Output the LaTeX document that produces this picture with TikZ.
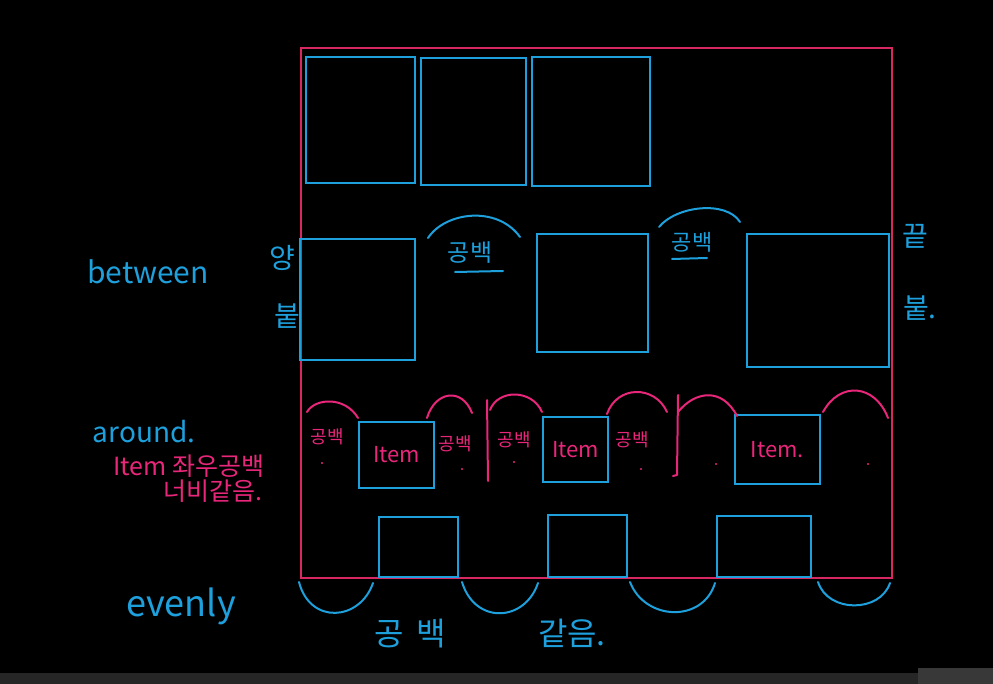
\documentclass[tikz,border=0pt]{standalone}
\usepackage{fontspec}
\setmainfont{Noto Sans CJK KR}
\definecolor{skyblue}{HTML}{1EA0DC}
\definecolor{hotpink}{HTML}{E8267A}
\definecolor{framepink}{HTML}{D82862}
\tikzset{
  sketch/.style={line width=2pt,line cap=round,line join=round},
  bluebox/.style={draw=skyblue,line width=1.4pt,inner sep=0pt,outer sep=0pt,anchor=north west},
  pinkline/.style={draw=hotpink,sketch},
  blueline/.style={draw=skyblue,sketch},
  bluetext/.style={text=skyblue,inner sep=0pt},
  pinktext/.style={text=hotpink,inner sep=0pt},
}
\newcommand{\fsz}[1]{\fontsize{#1}{#1}\selectfont}
\begin{document}
\begin{tikzpicture}[x=1pt,y=-1pt]
\fill[black] (0,0) rectangle (993,684);
\useasboundingbox (0,0) rectangle (993,684);
\fill[black!85] (0,673) rectangle (993,684);
\fill[black!78] (918,668) rectangle (993,684);

% container
\node[draw=framepink,line width=1.8pt,inner sep=0pt,anchor=north west,
  minimum width=591pt,minimum height=530pt] (flex) at (300,47) {};

% items, one row for each justify value
\foreach \n/\x/\y/\w/\h in {a1/306/57/109pt/126pt,a2/421/58/105pt/127pt,a3/532/57/118pt/129pt,
  b1/300/239/115pt/121pt,b2/537/234/111pt/118pt,b3/747/234/142pt/133pt,
  c1/359/422/75pt/66pt,c2/543/417/65pt/65pt,c3/735/415/85pt/69pt,
  d1/379/517/79pt/60pt,d2/548/515/79pt/62pt,d3/717/516/94pt/61pt}
{
	\node[bluebox,minimum width=\w,minimum height=\h] (\n) at (\x,\y) {};
}

% between
\node[bluetext,font=\fsz{30}] (between) at (148,272) {between};
\node[bluetext,font=\fsz{28}] (yang) at (282,258) {양};
\node[bluetext,font=\fsz{28}] (butL) at (287,316) {붙};
\node[bluetext,font=\fsz{28}] (kkeut) at (915,236) {끝};
\node[bluetext,font=\fsz{28}] (butR) at (920,308) {붙.};
\draw[blueline] (428,238) .. controls (445,212) and (497,205) .. (520,237);
\draw[blueline] (659,227) .. controls (676,206) and (726,200) .. (740,222);
\node[bluetext,font=\fsz{24}] (gapB1) at (470,253) {공백};
\node[bluetext,font=\fsz{22}] (gapB2) at (692,242) {공백};
\draw[blueline] (455,272) -- (503,271);
\draw[blueline] (672,259) -- (707,258);

% around
\node[bluetext,font=\fsz{28}] (around) at (144,432) {around.};
\node[pinktext,font=\fsz{25}] (note1) at (189,466) {Item 좌우공백};
\node[pinktext,font=\fsz{25}] (note2) at (213,491) {너비같음.};
\foreach \x/\y/\a/\b/\c/\d/\e/\f in {307/412/315/398/345/396/358/418,
  427/418/435/391/462/387/472/413,490/410/498/389/532/389/542/412,
  607/414/617/385/655/385/667/412,678/412/695/391/722/387/737/416,
  823/412/840/381/875/384/888/418}
{
	\draw[pinkline] (\x,\y) .. controls (\a,\b) and (\c,\d) .. (\e,\f);
}
\draw[pinkline] (487,400) -- (488,481);
\draw[pinkline] (678,395) -- (677,475) -- (673,476);
\foreach \n/\x/\y in {g1/327/437,g2/455/444,g3/514/440,g4/632/440}
{
	\node[pinktext,font=\fsz{18}] (\n) at (\x,\y) {공백};
}
\foreach \x/\y in {322/463,462/469,514/462,641/469,716/464,868/464}
{
	\fill[hotpink] (\x,\y) circle (1.2pt);
}
\node[pinktext,font=\fsz{22}] at (c1.center) {Item};
\node[pinktext,font=\fsz{22}] at (c2.center) {Item};
\node[pinktext,font=\fsz{22}] at (c3.center) {Item.};

% evenly
\node[bluetext,font=\fsz{36}] (evenly) at (181,606) {evenly};
\foreach \x/\a/\b/\c/\d/\e in {299/310/625/360/621/373,462/475/625/525/622/538,
  630/645/621/703/623/715,818/828/613/880/613/890}
{
	\draw[blueline] (\x,582) .. controls (\a,\b) and (\c,\d) .. (\e,583);
}
\node[bluetext,font=\fsz{32}] (gapE) at (410,634) {공\hspace{12pt}백};
\node[bluetext,font=\fsz{32}] (same) at (572,633) {같음.};

\end{tikzpicture}
\end{document}
